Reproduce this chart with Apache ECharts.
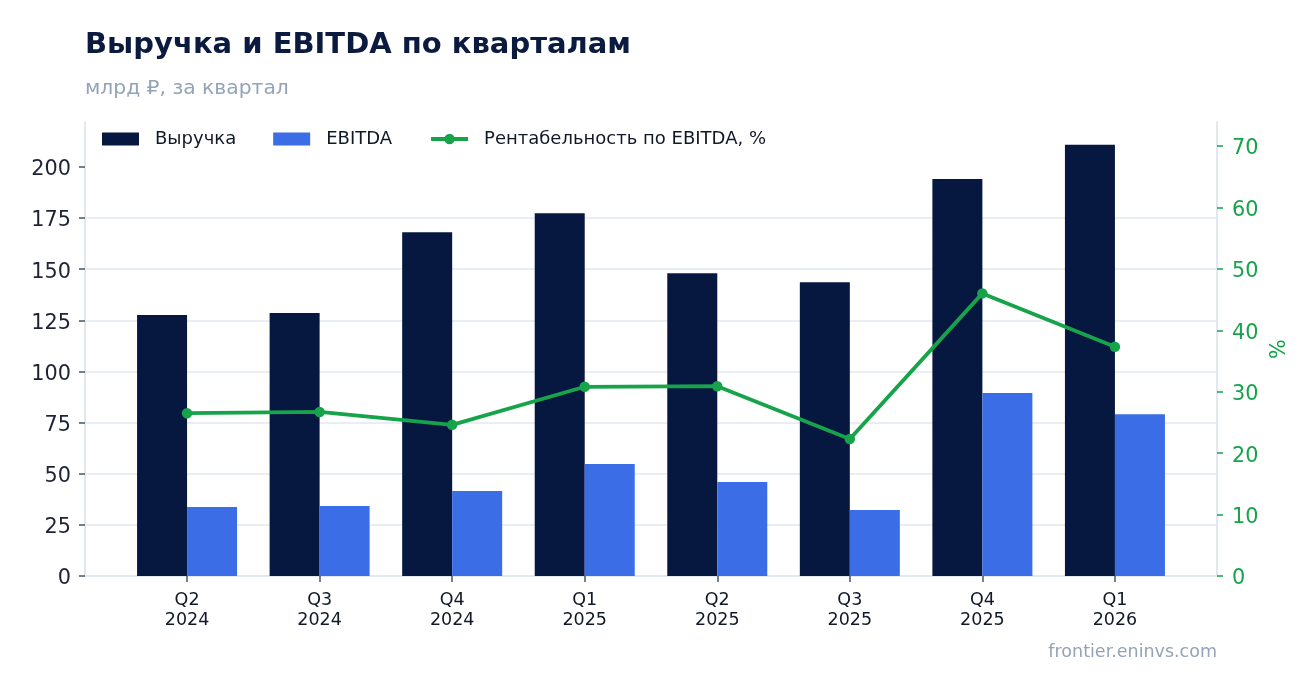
<!DOCTYPE html>
<html>
<head>
<meta charset="utf-8">
<script src="https://cdn.jsdelivr.net/npm/echarts@6/dist/echarts.min.js"></script>
<style>
  html, body { margin: 0; padding: 0; background: #fff; }
  #chart { width: 1316px; height: 693px; }
</style>
</head>
<body>
<div id="chart"></div>
<script>
// данные по кварталам
const quarters = ['Q2', 'Q3', 'Q4', 'Q1', 'Q2', 'Q3', 'Q4', 'Q1'];
const years = ['2024', '2024', '2024', '2025', '2025', '2025', '2025', '2026'];
const revenue = [127.6, 128.6, 168.0, 177.3, 148.0, 143.6, 194.1, 210.8];
const ebitda = [33.7, 34.2, 41.6, 54.8, 46.0, 32.3, 89.4, 79.0];
const margin = [26.5, 26.7, 24.6, 30.8, 30.9, 22.3, 46.0, 37.3];
const leftTicks = [0, 25, 50, 75, 100, 125, 150, 175, 200];
const rightTicks = [0, 10, 20, 30, 40, 50, 60, 70];

const FONT = 'DejaVu Sans';
const positions = quarters.map((q, i) => i);

let chart = echarts.init(document.getElementById('chart'));

// подписи осей Y чуть ниже центра деления, как в оригинале
const yLabelRich = color => ({
  v: { fontFamily: FONT, fontSize: 20.8, color: color, padding: [6, 0, 0, 0] }
});

let option = {
  backgroundColor: '#ffffff',
  animation: false,
  textStyle: { fontFamily: FONT },
  title: {
    text: 'Выручка и EBITDA по кварталам',
    subtext: 'млрд ₽, за квартал',
    left: 80,
    top: 26,
    itemGap: 19,
    textStyle: { fontFamily: FONT, fontSize: 29, fontWeight: 'bold', color: '#0b1a3f' },
    subtextStyle: { fontFamily: FONT, fontSize: 20.3, color: '#94a3b8' }
  },
  legend: {
    left: 102,
    top: 130,
    padding: 0,
    itemWidth: 37,
    itemHeight: 13,
    itemGap: 37,
    textStyle: { fontFamily: FONT, fontSize: 18, color: '#111827', padding: [0, 0, 0, 11] },
    data: [
      { name: 'Выручка', icon: 'rect' },
      { name: 'EBITDA', icon: 'rect' },
      { name: 'Рентабельность по EBITDA, %', lineStyle: { width: 4 } }
    ]
  },
  grid: { left: 85, right: 99, top: 122, bottom: 117 },
  xAxis: {
    type: 'value',
    min: -0.77,
    max: 7.77,
    splitLine: { show: false },
    axisLine: { show: true, onZero: false, lineStyle: { color: '#e2e8f0', width: 2 } },
    axisTick: { show: true, customValues: positions, length: 6, lineStyle: { color: '#475569', width: 1.5 } },
    axisLabel: {
      customValues: positions,
      margin: 14,
      fontFamily: FONT,
      fontSize: 17.5,
      lineHeight: 20.5,
      color: '#111827',
      formatter: v => quarters[Math.round(v)] + '\n' + years[Math.round(v)]
    }
  },
  yAxis: [
    {
      type: 'value',
      min: 0,
      max: 221.9,
      interval: 25,
      position: 'left',
      axisLine: { show: true, onZero: false, lineStyle: { color: '#e2e8f0', width: 2 } },
      axisTick: { show: true, customValues: leftTicks, length: 6, lineStyle: { color: '#475569', width: 1.5 } },
      axisLabel: {
        customValues: leftTicks, margin: 14,
        formatter: v => '{v|' + v + '}',
        rich: yLabelRich('#1e2235')
      },
      splitLine: { show: true, showMinLine: false, showMaxLine: false, lineStyle: { color: '#e2e8f0', width: 1.5 } }
    },
    {
      type: 'value',
      min: 0,
      max: 73.9,
      interval: 10,
      position: 'right',
      name: '%',
      nameLocation: 'middle',
      nameRotate: 90,
      nameGap: 41,
      nameTextStyle: { fontFamily: FONT, fontSize: 20.8, color: '#16a34a' },
      axisLine: { show: true, onZero: false, lineStyle: { color: '#e2e8f0', width: 2 } },
      axisTick: { show: true, customValues: rightTicks, length: 6, lineStyle: { color: '#16a34a', width: 1.5 } },
      axisLabel: {
        customValues: rightTicks, margin: 15,
        formatter: v => '{v|' + v + '}',
        rich: yLabelRich('#16a34a')
      },
      splitLine: { show: false }
    }
  ],
  series: [
    {
      name: 'Выручка',
      type: 'bar',
      barWidth: 50,
      barGap: '0%',
      itemStyle: { color: '#061740' },
      data: revenue.map((v, i) => [i, v])
    },
    {
      name: 'EBITDA',
      type: 'bar',
      barWidth: 50,
      barGap: '0%',
      itemStyle: { color: '#3b6de6' },
      data: ebitda.map((v, i) => [i, v])
    },
    {
      name: 'Рентабельность по EBITDA, %',
      type: 'line',
      yAxisIndex: 1,
      symbol: 'circle',
      symbolSize: 10.5,
      lineStyle: { color: '#16a34a', width: 3.8 },
      itemStyle: { color: '#16a34a' },
      data: margin.map((v, i) => [i, v]),
      z: 5
    }
  ],
  graphic: [
    {
      type: 'text',
      right: 99,
      top: 643,
      style: { text: 'frontier.eninvs.com', fontFamily: FONT, fontSize: 17.5, fill: '#94a3b8' }
    }
  ]
};

chart.setOption(option);
</script>
</body>
</html>
